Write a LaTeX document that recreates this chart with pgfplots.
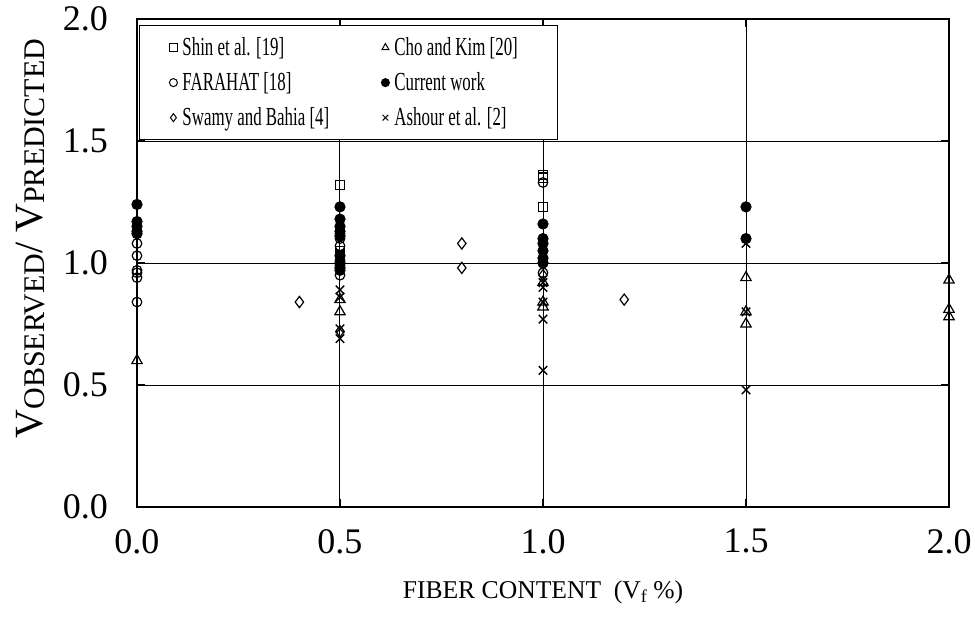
\documentclass[border=0pt]{standalone}
\usepackage{pgfplots}
\pgfplotsset{compat=1.18}
\usepackage{fontspec}
\setmainfont{Liberation Serif}
\newcommand{\lt}[2]{\makebox[#1][l]{\scalebox{0.65}[1]{#2}}}
\begin{document}
\begin{tikzpicture}
\begin{axis}[
  scale only axis, width=406pt, height=244pt,
  xmin=0, xmax=2, ymin=0, ymax=2,
  xtick={0,0.5,1,1.5,2}, ytick={0,0.5,1,1.5,2},
  grid=major, major grid style={black, line width=0.5pt},
  axis line style={line width=1pt},
  tick align=inside, tick style={black, line width=0.8pt}, major tick length=4pt,
  /pgf/number format/assume math mode=true,
  /pgf/number format/.cd, fixed, fixed zerofill, precision=1, /pgfplots/.cd,
  ticklabel style={font=\fontsize{18}{20}\selectfont},
  yticklabel style={xshift=-11pt},
  xticklabel style={yshift=-7.5pt},
  xlabel={FIBER CONTENT\ \ (V\raisebox{-0.35ex}{\fontsize{9}{10}\selectfont f} \%)},
  xlabel style={font=\fontsize{12.8}{15}\selectfont, at={(axis description cs:0.5,-0.175)}, anchor=center},
  ylabel={{\fontsize{20}{22}\selectfont V}\raisebox{-0.25ex}{\fontsize{15}{17}\selectfont OBSERVED}{\fontsize{20}{22}\selectfont / V}\raisebox{-0.25ex}{\fontsize{15}{17}\selectfont PREDICTED}},
  ylabel style={at={(axis description cs:-0.131,0.55)}, anchor=center},
  legend columns=2,
  legend cell align=left,
  legend image code/.code={\path[draw=none] (0pt,0pt) -- (10pt,0pt); \path[#1, mark size=2pt, line width=0.5pt] plot[only marks] coordinates {(7pt,0pt)};},
  legend style={at={(axis description cs:0.002,0.988)}, anchor=north west,
    font=\fontsize{13}{15}\selectfont, draw=black, line width=0.8pt,
    inner xsep=10pt, inner ysep=5.2pt, row sep=6pt,
    nodes={inner xsep=1.5pt, inner ysep=0.5pt},
    /tikz/every even column/.append style={column sep=13pt}},
  clip=false,
]
\coordinate (SW) at (rel axis cs:0,0);
\coordinate (NE) at (rel axis cs:1,1);
% Shin et al [19]
\addplot[only marks, mark=square, mark size=2.3pt, line width=0.6pt] coordinates {
 (0.5,1.32) (0.5,1.05) (0.5,1.03) (1.0,1.36) (1.0,1.35) (1.0,1.23)};
\addlegendentry{\lt{80pt}{Shin et al. [19]}}
% Cho and Kim [20]
\addplot[only marks, mark=triangle, mark size=3pt, line width=0.6pt] coordinates {
 (0,0.60) (0.5,0.85) (0.5,0.80) (1.0,0.92) (1.0,0.84) (1.0,0.82)
 (1.5,0.94) (1.5,0.80) (1.5,0.75) (2.0,0.93) (2.0,0.81) (2.0,0.78)};
\addlegendentry{\lt{70pt}{Cho and Kim [20]}}
% FARAHAT [18]
\addplot[only marks, mark=o, mark size=2.4pt, line width=0.6pt] coordinates {
 (0,1.08) (0,1.03) (0,0.97) (0,0.96) (0,0.94) (0,0.84)
 (0.5,1.12) (0.5,1.10) (0.5,1.07) (0.5,1.01) (0.5,0.99) (0.5,0.95)
 (1.0,1.33) (1.0,1.00) (1.0,0.96)};
\addlegendentry{\lt{80pt}{FARAHAT [18]}}
% Current work
\addplot[only marks, mark=*, mark size=2.6pt, black] coordinates {
 (0,1.24) (0,1.17) (0,1.15) (0,1.13) (0,1.12)
 (0.5,1.23) (0.5,1.18) (0.5,1.15) (0.5,1.13) (0.5,1.11) (0.5,1.03) (0.5,1.00) (0.5,0.98) (0.5,0.97)
 (1.0,1.16) (1.0,1.10) (1.0,1.08) (1.0,1.05) (1.0,1.02) (1.0,1.00)
 (1.5,1.23) (1.5,1.10)};
\addlegendentry{\lt{70pt}{Current work}}
% Swamy and Bahia [4]
\addplot[only marks, mark=diamond, mark size=2.8pt, line width=0.6pt] coordinates {
 (0.4,0.84) (0.5,0.72) (0.8,1.08) (0.8,0.98) (1.0,0.95) (1.2,0.85)};
\addlegendentry{\lt{80pt}{Swamy and Bahia [4]}}
% Ashour et al [2]
\addplot[only marks, mark=x, mark size=3pt, line width=0.7pt] coordinates {
 (0.5,0.89) (0.5,0.86) (0.5,0.73) (0.5,0.69)
 (1.0,0.92) (1.0,0.90) (1.0,0.84) (1.0,0.77) (1.0,0.56)
 (1.5,1.08) (1.5,0.80) (1.5,0.48)};
\addlegendentry{\lt{70pt}{Ashour et al. [2]}}
\end{axis}
\pgfresetboundingbox
\path ([shift={(-68.5pt,-60pt)}]SW) rectangle ([shift={(13pt,9.5pt)}]NE);
\end{tikzpicture}
\end{document}
